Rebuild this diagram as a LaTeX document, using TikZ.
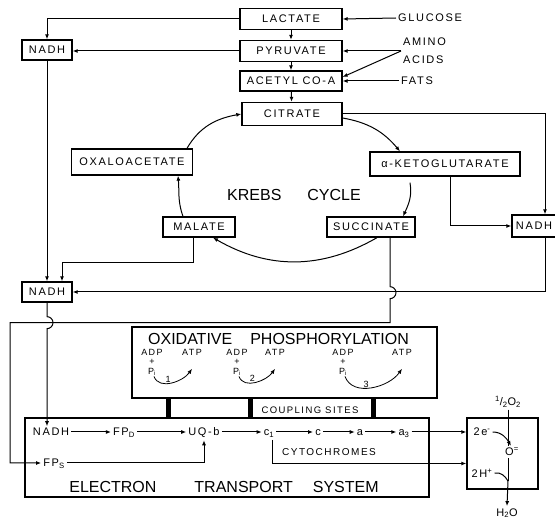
\documentclass[tikz,border=0pt]{standalone}
\usepackage{fontspec}
\setmainfont{Liberation Sans}[LetterSpace=15]
\newfontfamily\plainsans{Liberation Sans}
\usetikzlibrary{arrows.meta}

\begin{document}
\begin{tikzpicture}[
    x=1pt,y=-1pt,
    box/.style={draw,line width=1.3pt,align=center,inner sep=2pt,
      minimum height=21pt,font=\fontsize{11}{12}\selectfont},
    frame/.style={draw,line width=1.3pt,inner sep=0pt},
    txt/.style={inner sep=2pt,font=\fontsize{11}{12}\selectfont},
    bigtxt/.style={inner sep=1pt,font=\plainsans\fontsize{16}{18}\selectfont},
    smalltxt/.style={inner sep=0.5pt,font=\fontsize{9}{10}\selectfont},
    bar/.style={fill=black,minimum width=5pt,minimum height=20pt,inner sep=0pt},
    arrow/.style={-{Latex[length=5pt,width=4pt]},draw=black,line width=1pt},
    plain/.style={draw=black,line width=1pt}
  ]
    \useasboundingbox (0,0) rectangle (555,521);

    % frames
    \node[frame,minimum width=305pt,minimum height=71pt] (oxbox) at (284.5,362.5) {};
    \node[frame,minimum width=404pt,minimum height=79pt] (etsbox) at (227,457.5) {};
    \node[frame,minimum width=71pt,minimum height=71pt] (obox) at (502.5,453.5) {};

    % fuel supply
    \node[box,minimum width=102pt] (lactate) at (291,19) {LACTATE};
    \node[box,minimum width=102pt] (pyruvate) at (291,51) {PYRUVATE};
    \node[box,minimum width=102pt,minimum height=20pt] (acetyl) at (291,81) {ACETYL CO-A};
    \node[box,minimum width=100pt,minimum height=23pt] (citrate) at (292,114) {CITRATE};
    \node[txt,anchor=west] (glucose) at (396,18) {GLUCOSE};
    \node[txt,anchor=west,align=left,font=\fontsize{11}{18}\selectfont] (amino) at (401,51) {AMINO\\ACIDS};
    \node[txt,anchor=west] (fats) at (399,81) {FATS};

    \node[box,minimum width=50pt,minimum height=20pt] (nadhtop) at (47,50) {NADH};
    \node[box,minimum width=50pt,minimum height=20pt] (nadhmid) at (47,292) {NADH};
    \node[box,minimum width=44pt,minimum height=22pt] (nadhright) at (534,226) {NADH};

    % krebs cycle
    \node[box,minimum width=121pt,minimum height=26pt] (oxalo) at (132,162) {OXALOACETATE};
    \node[box,minimum width=72pt,minimum height=20pt] (malate) at (199,227) {MALATE};
    \node[box,minimum width=150pt,minimum height=24pt] (aketo) at (445,164) {α-KETOGLUTARATE};
    \node[box,minimum width=88pt,minimum height=20pt] (succinate) at (371,227) {SUCCINATE};
    \node[bigtxt] (krebs) at (294,195) {KREBS\hspace{26pt}CYCLE};

    \draw[arrow] (glucose.west) -- (lactate.east);
    \draw[arrow] (amino.west) -- (pyruvate.east);
    \draw[arrow] (amino.west) -- ([yshift=4pt]acetyl.east);
    \draw[arrow] (fats.west) -- (acetyl.east);
    \draw[arrow] (lactate) -- (pyruvate);
    \draw[arrow] (pyruvate) -- (acetyl);
    \draw[arrow] (acetyl) -- (citrate);

    \draw[arrow] ([yshift=-4pt]citrate.east) to[out=-10,in=130] ([xshift=-45pt]aketo.north);
    \draw[arrow] ([xshift=-35pt,yshift=-6pt]aketo.south) to[out=-80,in=65] ([xshift=32pt]succinate.north);
    \draw[arrow] ([xshift=6pt]succinate.south) to[out=-150,in=-30] ([xshift=14pt]malate.south);
    \draw[arrow] ([xshift=-16pt]malate.north) to[out=110,in=-85] ([xshift=46pt]oxalo.south);
    \draw[arrow] ([xshift=55pt]oxalo.north) to[out=60,in=190] (citrate.west);

    % NADH collection
    \draw[arrow] (lactate.west) -| (nadhtop.north);
    \draw[arrow] (pyruvate.west) -- (pyruvate.west -| nadhtop.east);
    \draw[arrow] (nadhtop) -- (nadhmid);
    \draw[arrow] ([xshift=-6pt]malate.south) -- ++(0,25) -| ([xshift=15pt]nadhmid.north);
    \draw[arrow] (citrate.east) -| ([xshift=11pt]nadhright.north);
    \draw[arrow] ([xshift=5pt]aketo.south) |- (nadhright.west);
    \draw[arrow] ([xshift=11pt]nadhright.south) |- (nadhmid.east);

    % oxidative phosphorylation
    \node[bigtxt] (oxtitle) at (278.5,339) {OXIDATIVE\hspace{18pt}PHOSPHORYLATION};
    \foreach \i/\xa/\xb in {1/152/192, 2/237/275, 3/343/402} {
      \node[smalltxt] (adp\i) at (\xa,352) {ADP};
      \node[smalltxt] (plus\i) at (\xa,362) {+};
      \node[smalltxt] (pi\i) at (\xa,372) {P\textsubscript{i}};
      \node[smalltxt] (atp\i) at (\xb,352) {ATP};
      \draw[arrow,line width=0.8pt] ([xshift=2pt]pi\i.south) to[out=-70,in=-125]
        node[smalltxt,pos=0.42,above] (site\i) {\i} ([yshift=-13pt]atp\i.south);
    }
    \node[bar] (bar1) at (168,408) {};
    \node[bar] (bar2) at (250,408) {};
    \node[bar] (bar3) at (373,408) {};
    \node[smalltxt,font=\fontsize{9.5}{10}\selectfont] (coupling) at (310,410) {COUPLING SITES};

    % electron transport system
    \node[txt,anchor=base] (nadhets) at (51,436) {NADH};
    \node[txt,anchor=base] (fpd) at (124,436) {FP\textsubscript{D}};
    \node[txt,anchor=base] (uqb) at (204,436) {UQ-b};
    \node[txt,anchor=base] (cone) at (269,436) {c\textsubscript{1}};
    \node[txt,anchor=base] (cc) at (318,436) {c};
    \node[txt,anchor=base] (ca) at (360,436) {a};
    \node[txt,anchor=base] (athree) at (404,436) {a\textsubscript{3}};
    \node[txt,anchor=base] (fps) at (54,467) {FP\textsubscript{S}};
    \node[txt,font=\fontsize{10}{11}\selectfont] (cyto) at (329,452) {CYTOCHROMES};
    \node[bigtxt] (etstitle) at (224,487) {ELECTRON\hspace{38pt}TRANSPORT\hspace{20pt}SYSTEM};

    \foreach \a/\b in {nadhets/fpd, fpd/uqb, uqb/cone, cone/cc, cc/ca, ca/athree}
      \draw[arrow] ([yshift=4pt]\a.base east) -- ([yshift=4pt]\b.base west);
    \draw[arrow] ([yshift=4pt]athree.base east) -- ([yshift=4pt]athree.base east -| obox.west);
    \draw[arrow] ([xshift=3pt]cone.south) |- ([yshift=-10pt]obox.west);
    \draw[arrow] ([yshift=4pt]fps.base east) -| (uqb.south);
    \draw[arrow] (nadhmid.south) -- ++(0,14) arc[start angle=90,end angle=-90,radius=6pt]
      -- (nadhmid.south |- nadhets.north);
    \draw[arrow] ([xshift=19pt]succinate.south) -- ++(0,49) arc[start angle=90,end angle=-90,radius=6pt]
      -- ++(0,24) -| ([xshift=-31pt,yshift=4pt]fps.base west) -- ([yshift=4pt]fps.base west);

    % oxygen
    \node[txt] (half) at (508,402) {\textsuperscript{1}/\textsubscript{2}O\textsubscript{2}};
    \node[txt] (etwo) at (482,432) {2e\textsuperscript{-}};
    \node[txt] (oion) at (512,452) {O\textsuperscript{=}};
    \node[txt] (hplus) at (482,473) {2H\textsuperscript{+}};
    \node[txt] (water) at (507,513) {H\textsubscript{2}O};
    \coordinate (wjoin) at (508,481);
    \draw[plain] (half.south) -- ([xshift=-4pt]oion.north);
    \draw[arrow] (etwo.east) to[out=0,in=120] ([xshift=-1pt]oion.north);
    \draw[plain] ([xshift=-4pt]oion.south) -- (wjoin);
    \draw[plain] (hplus.east) to[out=10,in=120] (wjoin);
    \draw[arrow] (wjoin) -- (water.north);
  \end{tikzpicture}
\end{document}
